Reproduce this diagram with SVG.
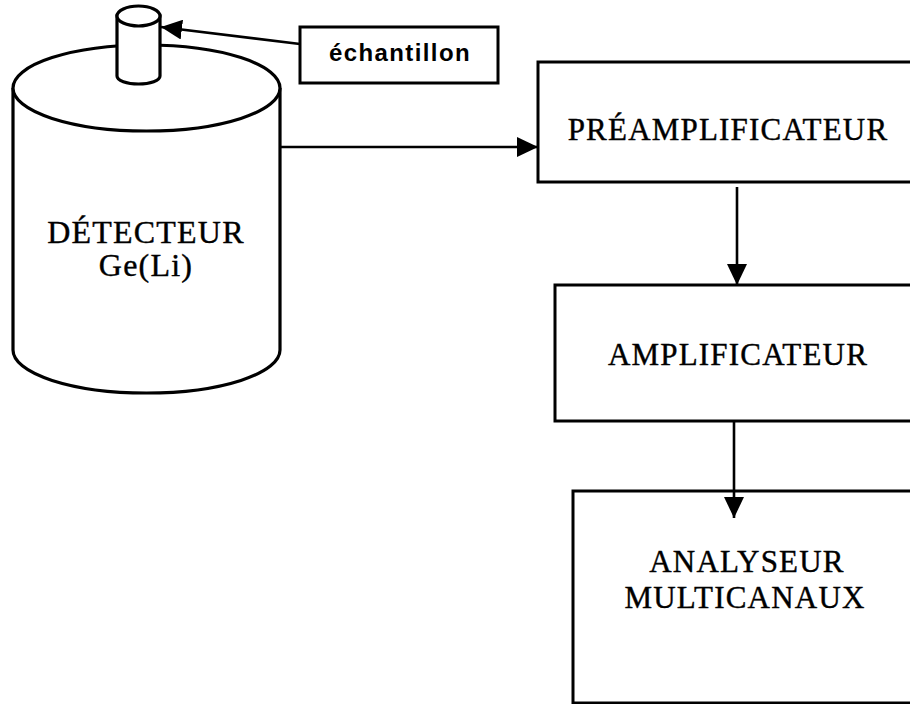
<svg xmlns="http://www.w3.org/2000/svg" width="910" height="704" viewBox="0 0 910 704">
<style>
.ln{stroke:#000;stroke-width:2.6;fill:none}
.bx{stroke:#000;stroke-width:3;fill:#fff}
.cyl{stroke:#000;stroke-width:3.2;fill:#fff}
.t{font-family:"Liberation Serif","Times New Roman",serif;font-size:31px;letter-spacing:1.2px;text-anchor:middle;fill:#000;stroke:#000;stroke-width:0.4}
.tb{font-family:"Liberation Sans",Arial,sans-serif;font-weight:bold;font-size:24px;letter-spacing:1.4px;text-anchor:middle;fill:#000}
</style>
<defs>
<marker id="ah" markerUnits="userSpaceOnUse" markerWidth="22" markerHeight="20" refX="21" refY="10" orient="auto">
<path d="M0,0 L21,10 L0,20 z" fill="#000"/>
</marker>
</defs>
<rect width="910" height="704" fill="#fff"/>
<g id="detecteur">
<path class="cyl" d="M13,88 L13,350 A133.5,43 0 0 0 280,350 L280,88"/>
<ellipse class="cyl" cx="146.5" cy="88" rx="133.5" ry="43"/>
<text class="t" x="146" y="243" style="font-size:32px">DÉTECTEUR</text>
<text class="t" x="146" y="276" style="font-size:32px">Ge(Li)</text>
</g>
<g id="echantillon-tube">
<path class="cyl" d="M117,16 L117,76 A21.5,8 0 0 0 160,76 L160,16 Z"/>
<ellipse class="cyl" cx="138.5" cy="16" rx="21.5" ry="10"/>
</g>
<g id="echantillon">
<rect class="bx" x="300" y="27" width="198" height="56"/>
<text class="tb" x="400" y="61">échantillon</text>
</g>
<g id="preamplificateur">
<rect class="bx" x="538" y="62" width="390" height="120"/>
<text class="t" x="728" y="140">PRÉAMPLIFICATEUR</text>
</g>
<g id="amplificateur">
<rect class="bx" x="555" y="285" width="370" height="136"/>
<text class="t" x="738" y="365">AMPLIFICATEUR</text>
</g>
<g id="analyseur">
<rect class="bx" x="573" y="491" width="360" height="212"/>
<text class="t" x="747" y="572">ANALYSEUR</text>
<text class="t" x="745" y="608">MULTICANAUX</text>
</g>
<g id="connectors">
<line class="ln" x1="300" y1="44" x2="161" y2="27" marker-end="url(#ah)"/>
<line class="ln" x1="280" y1="147" x2="538" y2="147" marker-end="url(#ah)"/>
<line class="ln" x1="737" y1="187" x2="737" y2="285" marker-end="url(#ah)"/>
<line class="ln" x1="734" y1="421" x2="734" y2="518" marker-end="url(#ah)"/>
</g>
</svg>
